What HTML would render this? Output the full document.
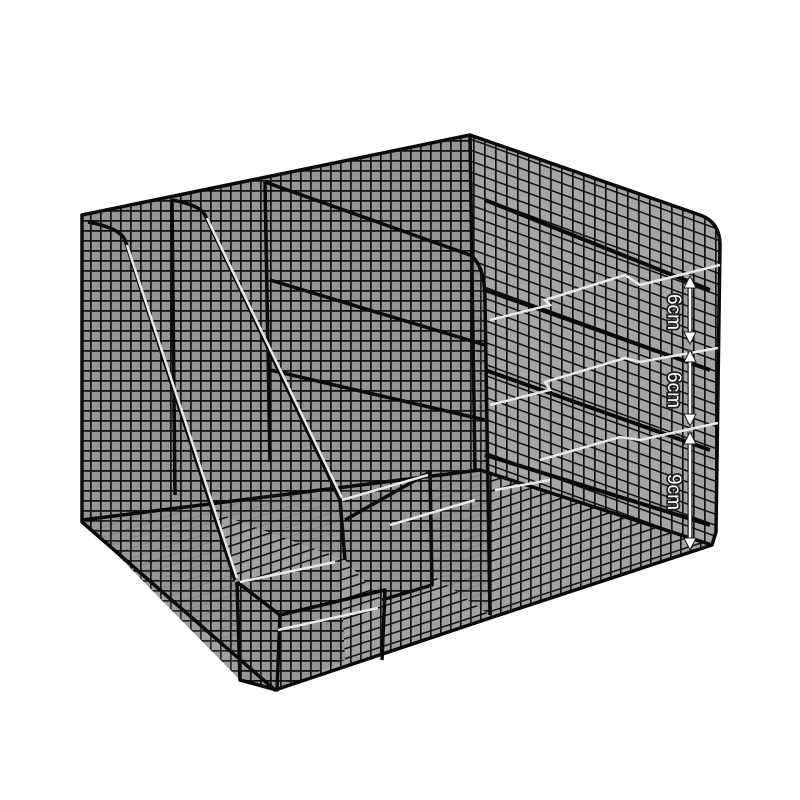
<!DOCTYPE html>
<html><head><meta charset="utf-8"><style>
html,body{margin:0;padding:0;background:#fff;}
svg{display:block}
</style></head><body>
<svg width="800" height="800" viewBox="0 0 800 800" xmlns="http://www.w3.org/2000/svg">
<defs>
<pattern id="g" width="10" height="10" patternUnits="userSpaceOnUse">
<rect width="10" height="10" fill="#959595"/>
<path d="M0 0.8H10M0.8 0V10" stroke="#111" stroke-width="1.8"/>
</pattern>
<pattern id="gs" width="10" height="10" patternUnits="userSpaceOnUse" patternTransform="skewY(-18)">
<rect width="10" height="10" fill="#a2a2a2"/>
<path d="M0 0.8H10M0.8 0V10" stroke="#111" stroke-width="1.6"/>
</pattern>
<pattern id="gr" width="11" height="11" patternUnits="userSpaceOnUse" patternTransform="skewY(20)">
<rect width="11" height="11" fill="#a5a5a5"/>
<path d="M0 0.8H11M0.8 0V11" stroke="#111" stroke-width="1.7"/>
</pattern>
</defs>

<polygon points="82,215 470,135 475,470 82,520" fill="url(#g)"/>
<path d="M470,135 L700,215 Q720,222 720,245 L716,532 L712,545 L480,470 Z" fill="url(#gr)"/>
<polygon points="82,520 480,470 712,545 490,618 275,690" fill="url(#gs)"/>

<polygon points="85,222 125,235 235,580 240,680 85,522" fill="url(#g)" opacity="0.9"/>
<polygon points="172,200 205,210 340,500 345,560 175,498" fill="url(#g)" opacity="0.9"/>
<path d="M265,182 L470,255 Q485,265 485,300 L490,615 L270,462 Z" fill="url(#g)" opacity="0.9"/>
<polygon points="237,582 340,560 345,660 277,690 240,680" fill="url(#g)"/>
<polygon points="340,500 430,472 432,585 382,600 345,560" fill="url(#g)"/>

<g stroke="#0a0a0a" stroke-width="3.5" fill="none" stroke-linejoin="round">
<path d="M82,215 L470,135 L700,215 Q720,222 720,245 L716,532 L712,545 L490,618 L275,690 L82,522 Z"/>
<path d="M470,135 L475,470"/>
<path d="M82,520 L480,470 L712,545"/>
<path d="M88,222 Q120,228 125,240 L235,580"/>
<path d="M172,200 L175,495"/>
<path d="M172,200 Q200,205 205,215 L340,500 L345,560"/>
<path d="M265,182 L270,462"/>
<path d="M265,182 L470,255 Q485,265 485,300 L490,615"/>
<path d="M237,582 L240,680 L277,690 L280,615 L237,582"/>
<path d="M280,615 L385,590 L382,660"/>
<path d="M345,520 L430,472 L432,585 L382,600"/>
<path d="M270,280 L485,345"/>
<path d="M270,370 L485,420"/>
</g>
<g stroke="#0a0a0a" stroke-width="4" fill="none">
<path d="M485,200 L710,290"/>
<path d="M485,290 L710,370"/>
<path d="M485,370 L710,450"/>
<path d="M485,455 L710,525"/>
</g>
<g stroke="#e8e8e8" stroke-width="2.5" fill="none">
<path d="M127,245 L237,578"/>
<path d="M207,218 L342,498"/>
<path d="M240,582 L335,562"/>
<path d="M278,630 L378,608"/>
<path d="M342,500 L428,475"/>
<path d="M390,525 L475,500"/>
<path d="M490,320 L550,305 L545,300 L625,275 L640,285 L720,265"/>
<path d="M490,405 L550,390 L545,382 L625,358 L640,362 L718,348"/>
<path d="M540,460 L620,437 L640,440 L718,423"/>
<path d="M495,490 L550,480"/>
</g>
<g stroke="#222" stroke-width="5" fill="none"><path d="M690,278V342M690,350V424M690,432V548"/></g>
<g stroke="#fff" stroke-width="2.5" fill="none"><path d="M690,278V342M690,350V424M690,432V548"/></g>
<g fill="#fff" stroke="#222" stroke-width="1">
<polygon points="690,276 684,288 696,288"/><polygon points="690,344 684,332 696,332"/>
<polygon points="690,350 684,362 696,362"/><polygon points="690,426 684,414 696,414"/>
<polygon points="690,432 684,444 696,444"/><polygon points="690,550 684,538 696,538"/>
</g>
<g font-family="Liberation Sans, sans-serif" font-size="19" fill="#fff" stroke="#222" stroke-width="3.5" paint-order="stroke" text-anchor="middle">
<text transform="translate(668,312) rotate(90)">6cm</text>
<text transform="translate(668,390) rotate(90)">6cm</text>
<text transform="translate(668,492) rotate(90)">9cm</text>
</g>
</svg>
</body></html>
